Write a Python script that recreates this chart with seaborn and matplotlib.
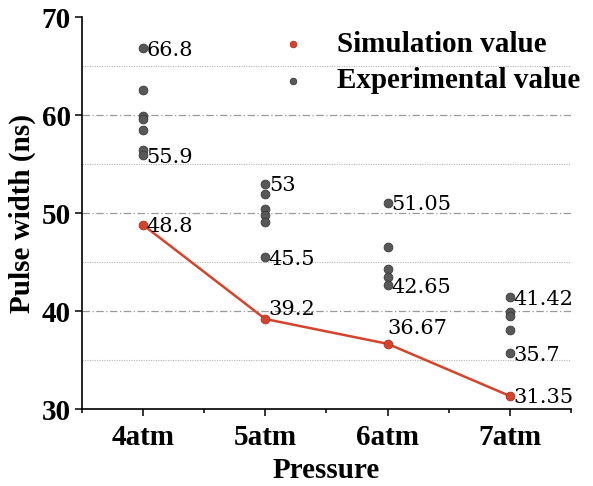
import numpy as np
import pandas as pd
import matplotlib
matplotlib.use("Agg")
import matplotlib.pyplot as plt
import seaborn as sns
from matplotlib.ticker import MultipleLocator, FixedLocator

categories = ["4atm", "5atm", "6atm", "7atm"]
sim_values = [48.8, 39.2, 36.67, 31.35]
exp_4atm = [66.8, 62.6, 59.9, 59.6, 58.5, 56.4, 55.9]
exp_5atm = [53.0, 52.0, 50.4, 49.8, 49.1, 45.5]
exp_6atm = [51.05, 46.5, 44.3, 43.5, 42.65]
exp_7atm = [41.42, 39.9, 39.5, 38.1, 35.7]
exp_labels = {"4atm": [66.8, 55.9], "5atm": [53.0, 45.5],
              "6atm": [51.05, 42.65], "7atm": [41.42, 35.7]}
exp_label_text = {66.8: "66.8", 55.9: "55.9", 53.0: "53", 45.5: "45.5",
                  51.05: "51.05", 42.65: "42.65", 41.42: "41.42", 35.7: "35.7"}
sim_label_text = ["48.8", "39.2", "36.67", "31.35"]

sns.set_theme(style="white")
plt.rcParams["font.family"] = ["Liberation Serif", "DejaVu Serif"]
plt.rcParams.update({"text.color": "black", "axes.labelcolor": "black",
                     "xtick.color": "black", "ytick.color": "black"})

exp_lists = [exp_4atm, exp_5atm, exp_6atm, exp_7atm]
exp_df = pd.DataFrame({
    "pos": np.concatenate([[i] * len(v) for i, v in enumerate(exp_lists)]),
    "value": np.concatenate(exp_lists),
})
sim_df = pd.DataFrame({"pos": np.arange(len(categories)), "value": sim_values})

fig = plt.figure(figsize=(5.93, 4.86), dpi=100)
ax = fig.add_axes([0.138, 0.158, 0.825, 0.807])

# grid
for y in [40, 50, 60]:
    ax.axhline(y, color="#9a9a9a", lw=0.9, ls=(0, (6, 2, 1, 2)), zorder=0)
for y in [35, 45, 55, 65]:
    ax.axhline(y, color="#b5b5b5", lw=0.8, ls=(0, (1, 1.2)), zorder=0)

red = "#d4432c"
gray = "#585858"
sns.lineplot(data=sim_df, x="pos", y="value", ax=ax, color=red, lw=1.8,
             zorder=3, legend=False)
sns.scatterplot(data=sim_df, x="pos", y="value", ax=ax, color=red, s=40,
                edgecolor="#b03020", linewidth=0.6, zorder=4,
                label="Simulation value")
sns.scatterplot(data=exp_df, x="pos", y="value", ax=ax, color=gray, s=40,
                edgecolor="#3a3a3a", linewidth=0.6, zorder=4,
                label="Experimental value")

fs = 15
ann_font = "DejaVu Serif"
for i, c in enumerate(categories):
    for v in exp_labels[c]:
        ax.annotate(exp_label_text[v], (i, v), xytext=(2.5, -1.5),
                    textcoords="offset points", ha="left", va="center",
                    fontsize=fs, family=ann_font, color="black", zorder=5)
sim_offsets = [(2.5, -1.5), (2, 7), (-0.5, 11), (2.5, -1)]
for i, (v, t) in enumerate(zip(sim_values, sim_label_text)):
    ax.annotate(t, (i, v), xytext=sim_offsets[i], textcoords="offset points",
                ha="left", va="center", fontsize=fs, family=ann_font,
                color="black", zorder=5)

ax.set_xlim(-0.5, 3.5)
ax.set_ylim(30, 70)
ax.xaxis.set_major_locator(FixedLocator(range(len(categories))))
ax.set_xticklabels(categories)
ax.xaxis.set_minor_locator(FixedLocator([-0.5, 0.5, 1.5, 2.5, 3.5]))
ax.yaxis.set_major_locator(MultipleLocator(10))

for s in ["top", "right"]:
    ax.spines[s].set_visible(False)
for s in ["left", "bottom"]:
    ax.spines[s].set_color("black")
    ax.spines[s].set_linewidth(1.2)

ax.tick_params(axis="both", which="major", direction="out", length=5,
               width=1.1, color="black", labelcolor="black", labelsize=21,
               bottom=True, left=True, pad=3)
ax.tick_params(axis="x", which="major", pad=6)
ax.tick_params(axis="x", which="minor", direction="out", length=3,
               width=1.1, color="black", bottom=True)
for lab in ax.get_xticklabels() + ax.get_yticklabels():
    lab.set_fontweight("bold")

ax.set_xlabel("Pressure", fontsize=21, fontweight="bold", labelpad=4,
              color="black")
ax.set_ylabel("Pulse width (ns)", fontsize=21, fontweight="bold", labelpad=4,
              color="black")

leg = ax.legend(loc="upper left", bbox_to_anchor=(0.426, 0.990),
                bbox_transform=fig.transFigure, frameon=False,
                prop={"family": "Liberation Serif", "weight": "bold", "size": 21},
                handlelength=1.0, handletextpad=1.0, labelspacing=0.32,
                markerscale=0.75)
for t in leg.get_texts():
    t.set_color("black")

fig.savefig("out.png", dpi=100)
